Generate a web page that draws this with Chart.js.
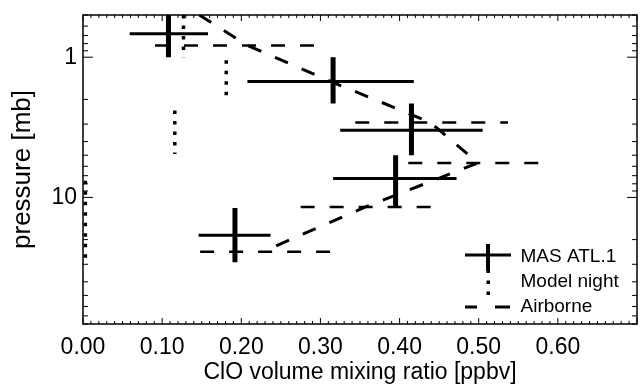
<!DOCTYPE html>
<html>
<head>
<meta charset="utf-8">
<script src="https://cdn.jsdelivr.net/npm/chart.js@4.4.0/dist/chart.umd.min.js"></script>
<style>
  html, body { margin: 0; padding: 0; background: #fff; }
</style>
</head>
<body>
<canvas id="cloChart" width="640" height="387"></canvas>
<script>
// MAS ATL.1 retrievals: ClO (ppbv) vs pressure (mb), with ranges for the cross bars
var masClo = [0.108, 0.316, 0.415, 0.395, 0.192];
var masPress = [0.68, 1.49, 3.32, 7.33, 18.6];
var masCloLow = [0.059, 0.208, 0.325, 0.316, 0.146];
var masCloHigh = [0.158, 0.418, 0.505, 0.472, 0.237];
var masPressTop = [0.45, 1.0, 2.14, 5.0, 11.9];
var masPressBottom = [1.0, 2.14, 5.0, 11.8, 29.0];

// model night profile, drawn as vertical dotted pieces
var modelClo = [0.127, 0.181, 0.116, 0.003];
var modelPressTop = [0.5, 1.05, 2.4, 7.6];
var modelPressBottom = [1.0, 2.1, 4.9, 29.0];

// airborne profile and its horizontal ranges
var airPress = [0.5, 0.826, 1.49, 2.92, 5.68, 11.7, 24.4];
var airClo = [0.147, 0.208, 0.313, 0.439, 0.499, 0.357, 0.227];
var airCloLow = [null, 0.091, 0.208, 0.344, 0.411, 0.275, 0.148];
var airCloHigh = [null, 0.302, 0.418, 0.537, 0.585, 0.443, 0.313];

var seriesNames = ['MAS ATL.1', 'Model night', 'Airborne'];
var xTitle = 'ClO volume mixing ratio [ppbv]';
var yTitle = 'pressure [mb]';

var gap = {x: null, y: null};

var masData = [];
masClo.forEach(function(c, i) {
    masData.push({x: masCloLow[i], y: masPress[i]}, {x: masCloHigh[i], y: masPress[i]}, gap);
    masData.push({x: c, y: masPressTop[i]}, {x: c, y: masPressBottom[i]}, gap);
});

var modelData = [];
modelClo.forEach(function(c, i) {
    modelData.push({x: c, y: modelPressTop[i]}, {x: c, y: modelPressBottom[i]}, gap);
});

var airData = airClo.map(function(c, i) { return {x: c, y: airPress[i]}; });
airClo.forEach(function(c, i) {
    if (airCloLow[i] === null) return;
    airData.push(gap, {x: airCloLow[i], y: airPress[i]}, {x: airCloHigh[i], y: airPress[i]});
});

// little pictures for the legend symbols
function makeIcon(draw) {
    var c = document.createElement('canvas');
    c.width = 46;
    c.height = 28;
    var g = c.getContext('2d');
    g.strokeStyle = '#000';
    g.fillStyle = '#000';
    draw(g);
    return c;
}
var legendIcons = [
    makeIcon(function(g) {
        g.lineWidth = 3;
        g.beginPath(); g.moveTo(0, 12); g.lineTo(46, 12); g.stroke();
        g.lineWidth = 4;
        g.beginPath(); g.moveTo(23, 1); g.lineTo(23, 28); g.stroke();
    }),
    makeIcon(function(g) {
        g.fillRect(21.5, 1.5, 3.5, 3.5);
        g.fillRect(21.5, 12.5, 3.5, 3.5);
        g.fillRect(21.5, 23.5, 3.5, 3.5);
    }),
    makeIcon(function(g) {
        g.lineWidth = 3;
        g.beginPath();
        g.moveTo(0, 14); g.lineTo(12, 14);
        g.moveTo(30, 14); g.lineTo(45, 14);
        g.stroke();
    })
];

// frame with IDL style ticks pointing inwards on all four sides
var frameTicks = {
    id: 'frameTicks',
    afterDatasetsDraw: function(chart) {
        var ctx = chart.ctx, a = chart.chartArea;
        var xs = chart.scales.x, ys = chart.scales.y;
        ctx.save();
        ctx.strokeStyle = '#000';
        ctx.lineWidth = 1;
        ctx.beginPath();
        function xmark(px, len) {
            ctx.moveTo(px, a.bottom); ctx.lineTo(px, a.bottom - len);
            ctx.moveTo(px, a.top); ctx.lineTo(px, a.top + len);
        }
        var xv = xs.ticks.map(function(t) { return t.value; });
        xv.forEach(function(v, i) {
            xmark(xs.getPixelForValue(v), 6);
            if (i < xv.length - 1) {
                for (var k = 1; k < 10; k++) {
                    xmark(xs.getPixelForValue(v + (xv[i + 1] - v) * k / 10), 3);
                }
            }
        });
        ys.ticks.forEach(function(t) {
            var e = Math.floor(Math.log10(t.value) + 1e-9);
            var m = t.value / Math.pow(10, e);
            if (Math.abs(m - Math.round(m)) > 1e-6) return;
            var len = Math.round(m) === 1 ? 10 : 5;
            var py = ys.getPixelForValue(t.value);
            ctx.moveTo(a.left, py); ctx.lineTo(a.left + len, py);
            ctx.moveTo(a.right, py); ctx.lineTo(a.right - len, py);
        });
        ctx.stroke();
        ctx.lineWidth = 1.5;
        ctx.strokeRect(a.left, a.top, a.right - a.left, a.bottom - a.top);
        ctx.restore();
    }
};

// move the legend into the lower right corner of the plot
var legendInside = {
    id: 'legendInside',
    afterLayout: function(chart) {
        var lg = chart.legend, a = chart.chartArea;
        if (!lg) return;
        lg.left = a.right - 178;
        lg.top = a.bottom - 82.5;
        lg.right = a.right;
        lg.bottom = a.bottom;
        lg.width = lg.right - lg.left;
        lg.height = lg.bottom - lg.top;
    }
};

Chart.defaults.font.family = "'Liberation Sans', Arial, Helvetica, sans-serif";
Chart.defaults.color = '#000';

var ctx = document.getElementById('cloChart').getContext('2d');
var cloChart = new Chart(ctx, {
    type: 'line',
    data: {
        datasets: [{
            label: seriesNames[0],
            data: masData,
            borderColor: '#000',
            borderWidth: 3,
            pointRadius: 0,
            segment: {
                borderWidth: function(c) { return c.p0.parsed.x === c.p1.parsed.x ? 5 : 3; }
            }
        }, {
            label: seriesNames[1],
            data: modelData,
            borderColor: '#000',
            borderWidth: 3.5,
            borderDash: [3.5, 7],
            pointRadius: 0
        }, {
            label: seriesNames[2],
            data: airData,
            borderColor: '#000',
            borderWidth: 3,
            borderDash: [14, 15],
            pointRadius: 0,
            segment: {
                borderWidth: function(c) { return c.p0.parsed.y === c.p1.parsed.y ? 2.5 : 3; }
            }
        }]
    },
    options: {
        responsive: false,
        animation: false,
        events: [],
        spanGaps: false,
        layout: {padding: {top: 15, right: 3, left: 0, bottom: 0}},
        scales: {
            x: {
                type: 'linear',
                min: 0,
                max: 0.7,
                afterFit: function(s) {
                    s.height = 63;
                    s.paddingLeft = 0;
                    s.paddingRight = 0;
                },
                grid: {display: false, drawTicks: false},
                border: {display: false},
                ticks: {
                    stepSize: 0.1,
                    autoSkip: false,
                    maxRotation: 0,
                    padding: 10,
                    font: {size: 23},
                    color: '#000',
                    callback: function(v) { return v < 0.65 ? v.toFixed(2) : ''; }
                },
                title: {display: true, text: xTitle, font: {size: 23}, color: '#000', padding: {top: 0, bottom: 1}}
            },
            y: {
                type: 'logarithmic',
                reverse: true,
                min: 0.5,
                max: 80,
                afterFit: function(s) {
                    s.width = 83;
                    s.paddingTop = 0;
                    s.paddingBottom = 0;
                },
                grid: {display: false, drawTicks: false},
                border: {display: false},
                ticks: {
                    autoSkip: false,
                    padding: 6,
                    font: {size: 23},
                    color: '#000',
                    callback: function(v) { return (v === 1 || v === 10) ? String(v) : ''; }
                },
                title: {display: true, text: yTitle, font: {size: 26}, color: '#000', padding: {top: 7, bottom: 0}}
            }
        },
        plugins: {
            legend: {
                position: 'chartArea',
                align: 'start',
                labels: {
                    usePointStyle: true,
                    pointStyleWidth: 46,
                    padding: 6,
                    font: {size: 19},
                    color: '#000',
                    generateLabels: function(chart) {
                        return chart.data.datasets.map(function(ds, i) {
                            return {text: ds.label, pointStyle: legendIcons[i], datasetIndex: i,
                                    fontColor: '#000', lineWidth: 0, hidden: false};
                        });
                    }
                }
            },
            tooltip: {enabled: false}
        }
    },
    plugins: [frameTicks, legendInside]
});
</script>
</body>
</html>
